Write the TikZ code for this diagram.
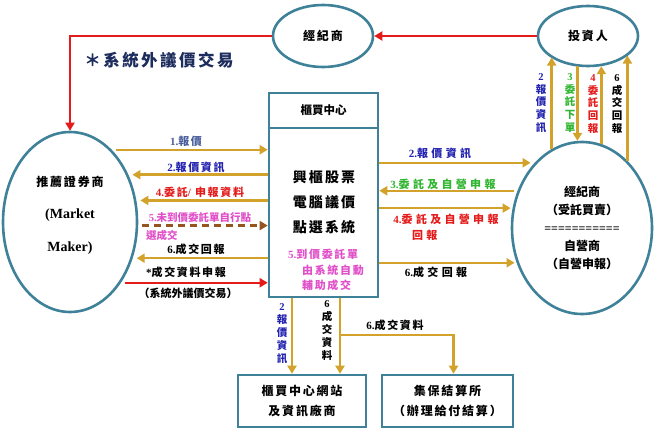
\documentclass[tikz,border=0pt]{standalone}
\usepackage{fontspec}
\setmainfont{Liberation Serif}
\newfontfamily\cjk{Noto Sans CJK TC}[LetterSpace=15]
\newfontfamily\cjkw{Noto Sans CJK TC}[LetterSpace=30]
\newfontfamily\cjkx{Noto Sans CJK TC}
\usetikzlibrary{shapes.geometric,arrows.meta}
\definecolor{rim}{HTML}{3E8198}
\definecolor{gold}{HTML}{D2A22A}
\definecolor{navy}{HTML}{1C2C5C}
\definecolor{pricebl}{HTML}{4A5E9C}
\definecolor{infobl}{HTML}{2323B0}
\definecolor{ordred}{HTML}{E41B1B}
\definecolor{okgreen}{HTML}{2FB52F}
\definecolor{pinkish}{HTML}{E050C8}
\definecolor{dashbrown}{HTML}{95551F}
\newcommand{\en}[1]{{\rmfamily\bfseries #1}}
\begin{document}
\begin{tikzpicture}[x=1pt,y=-1pt,
  oval/.style={ellipse, draw=rim, line width=2.6pt, inner sep=0pt},
  panel/.style={rectangle, draw=rim, line width=2.6pt, inner sep=0pt},
  flow/.style={draw=gold, line width=2.4pt, -{Triangle[length=8pt,width=9pt]}},
  offsys/.style={draw=ordred, line width=2.4pt, -{Triangle[length=8pt,width=9pt]}},
  tag/.style={inner sep=0pt, font=\cjk\bfseries\fontsize{11}{13}\selectfont},
  widetag/.style={inner sep=0pt, font=\cjkw\bfseries\fontsize{11}{13}\selectfont},
  big/.style={inner sep=0pt, align=center, font=\cjk\bfseries\fontsize{12}{20}\selectfont},
  vtag/.style={inner sep=0pt, align=center, font=\cjkx\bfseries\fontsize{10.5}{12.6}\selectfont},
]
\useasboundingbox (0,0) rectangle (659,436);
% participants
\node[oval, minimum width=100pt, minimum height=62pt, big] (broker) at (323,36) {經紀商};
\node[oval, minimum width=100pt, minimum height=60pt, big] (investor) at (588,36) {投資人};
\node[oval, minimum width=134pt, minimum height=180pt] (mm) at (70,222) {};
\node[big, font=\cjk\bfseries\fontsize{12}{32.5}\selectfont] (mmname) at (70,215)
  {推薦證券商\\{\fontsize{14}{32.5}\selectfont\en{(Market}}\\{\fontsize{14}{32.5}\selectfont\en{Maker)}}};
\node[oval, minimum width=140pt, minimum height=172pt, align=center,
  font=\cjkx\bfseries\fontsize{12}{18}\selectfont] (dealer) at (582,228)
  {經紀商\\（受託買賣）\\\en{===========}\\自營商\\（自營申報）};
\node[inner sep=0pt, text=navy, font=\cjk\bfseries\fontsize{16.5}{18}\selectfont] (heading) at (159,60) {＊系統外議價交易};
% OTC center
\node[panel, minimum width=109pt, minimum height=35pt, font=\cjkx\bfseries\fontsize{11.5}{13}\selectfont] (hdr) at (323.5,110.5) {櫃買中心};
\node[panel, minimum width=109pt, minimum height=169pt] (sys) at (323.5,212.5) {};
\node[inner sep=0pt, align=center, font=\cjk\bfseries\fontsize{14}{25}\selectfont] (engine) at (324,202) {興櫃股票\\電腦議價\\點選系統};
\node[inner sep=0pt, align=left, text=pinkish, font=\cjk\bfseries\fontsize{11}{15.5}\selectfont] (automatch) at (326,270)
  {\en{5.}到價委託單\\\hspace{14pt}由系統自動\\\hspace{14pt}輔助成交};
% output boxes
\node[panel, minimum width=128pt, minimum height=52pt, big] (web) at (302,401) {櫃買中心網站\\及資訊廠商};
\node[panel, minimum width=131pt, minimum height=52pt, big] (tdcc) at (447.5,401) {集保結算所\\（辦理給付結算）};
% top
\draw[offsys] (investor.west) -- (broker.east);
\draw[offsys] (broker.west) -| (mm.north);
% left side
\draw[flow, shorten <=4pt] (mm.60) -- (mm.60 -| sys.west);
\draw[flow, shorten >=4pt] (mm.39 -| sys.west) -- (mm.39);
\draw[flow, shorten >=4pt] (mm.18 -| sys.west) -- (mm.18);
\draw[flow, draw=dashbrown, dash pattern=on 7pt off 5pt, shorten <=4pt] (mm.357) -- (mm.357 -| sys.west);
\draw[flow, shorten >=4pt] (mm.330 -| sys.west) -- (mm.330);
\draw[offsys, shorten <=4pt] (mm.310) -- (mm.310 -| sys.west);
\node[tag, text=pricebl] (l1) at (186,141) {\en{1.}報價};
\node[tag, text=infobl] (l2) at (196,167) {\en{2.}報價資訊};
\node[tag, text=ordred] (l4) at (200,192) {\en{4.}委託\en{/} 申報資料};
\node[tag, text=pinkish, font=\cjkx\bfseries\fontsize{10.5}{13}\selectfont] (l5) at (200,217) {\en{5.}未到價委託單自行點};
\node[tag, text=pinkish, font=\cjkx\bfseries\fontsize{10.5}{13}\selectfont, anchor=west] (l5b) at (146,235) {選成交};
\node[tag] (l6) at (196,249) {\en{6.}成交回報};
\node[tag] (l7) at (186,272) {\en{*}成交資料申報};
\node[tag, font=\cjkx\bfseries\fontsize{11}{13}\selectfont] (l8) at (188,293) {（系統外議價交易）};
% right side
\draw[flow, shorten >=4pt] (dealer.126 -| sys.east) -- (dealer.126);
\draw[flow, shorten <=4pt] (dealer.150) -- (dealer.150 -| sys.east);
\draw[flow, shorten >=2pt] (dealer.164 -| sys.east) -- (dealer.164);
\draw[flow, shorten >=2pt] (dealer.208 -| sys.east) -- (dealer.208);
\node[widetag, text=infobl] (r2) at (440,153) {\en{2.}報價資訊};
\node[widetag, text=okgreen] (r3) at (443,184) {\en{3.}委託及自營申報};
\node[widetag, text=ordred] (r4) at (446,219) {\en{4.}委託及自營申報};
\node[widetag, text=ordred, anchor=west] (r4b) at (412,235) {回報};
\node[widetag] (r6) at (436,272) {\en{6.}成交回報};
% investor <-> broker/dealer
\draw[flow] (dealer.111) -- (dealer.111 |- investor.210);
\draw[flow] (dealer.93 |- investor.249) -- (dealer.93);
\draw[flow] (dealer.77) -- (dealer.77 |- investor.294);
\draw[flow] (dealer.56) -- (dealer.56 |- investor.334);
\node[vtag, text=infobl] (v2) at (541,103) {\en{2}\\報\\價\\資\\訊};
\node[vtag, text=okgreen] (v3) at (570,103) {\en{3}\\委\\託\\下\\單};
\node[vtag, text=ordred] (v4) at (593,104) {\en{4}\\委\\託\\回\\報};
\node[vtag] (v6) at (617,104) {\en{6}\\成\\交\\回\\報};
% bottom
\coordinate (tapl) at ([xshift=-31.5pt]sys.south);
\coordinate (tapr) at ([xshift=16.5pt]sys.south);
\coordinate (fork) at (tapr |- 0,335);
\draw[flow] (tapl) -- (tapl |- web.north);
\draw[flow] (tapr) -- (tapr |- web.north);
\draw[flow] (fork) -| ([xshift=6pt]tdcc.north);
\node[vtag, text=infobl, font=\cjkx\bfseries\fontsize{10.5}{13}\selectfont] (b2) at (282,334) {\en{2}\\報\\價\\資\\訊};
\node[vtag, font=\cjkx\bfseries\fontsize{10.5}{13}\selectfont] (b6) at (327,331) {\en{6}\\成\\交\\資\\料};
\node[tag] (b6t) at (395,325) {\en{6.}成交資料};
\end{tikzpicture}
\end{document}
